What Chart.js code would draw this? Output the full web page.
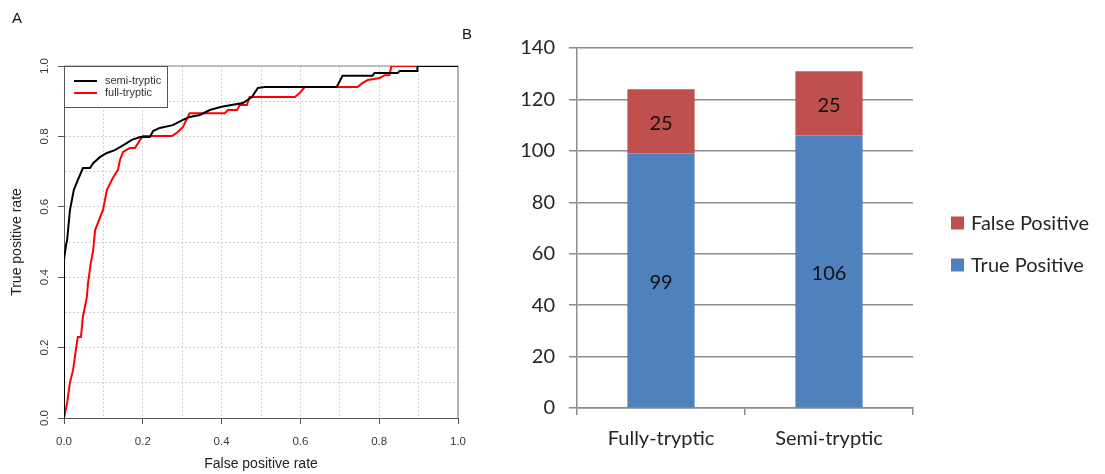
<!DOCTYPE html>
<html><head><meta charset="utf-8">
<script src="https://cdn.jsdelivr.net/npm/chart.js@4.4.1/dist/chart.umd.min.js"></script>
<style>
html,body{margin:0;padding:0;background:#fff;width:1105px;height:474px;overflow:hidden;}
#wrapA{position:absolute;left:0;top:0;width:477px;height:474px;}
#wrapB{position:absolute;left:470px;top:0;width:635px;height:474px;}
.panel{position:absolute;z-index:5;font-family:"Liberation Sans",Arial,sans-serif;font-size:15px;color:#111;line-height:1;}
</style></head><body>
<div id="wrapA"><canvas id="cA" width="477" height="474"></canvas></div>
<div id="wrapB"><canvas id="cB" width="635" height="474"></canvas></div>
<div class="panel" style="left:12px;top:10px;">A</div>
<div class="panel" style="left:462px;top:26px;">B</div>
<script>
// ---------- Panel A data (ROC curves) ----------
const rocSeriesNames = ['semi-tryptic', 'full-tryptic'];
const semiFPR = [0,0,0.005,0.008,0.015,0.025,0.035,0.048,0.066,0.074,0.091,0.109,0.129,0.155,0.172,0.193,0.218,0.226,0.243,0.276,0.302,0.319,0.345,0.37,0.4,0.454,0.477,0.492,0.51,0.692,0.707,0.783,0.788,0.847,0.852,0.897,0.897,1];
const semiTPR = [0,0.449,0.49,0.506,0.59,0.648,0.676,0.71,0.71,0.724,0.741,0.753,0.761,0.778,0.79,0.798,0.798,0.815,0.824,0.832,0.847,0.855,0.861,0.875,0.884,0.895,0.912,0.9375,0.94,0.94,0.972,0.972,0.98,0.98,0.986,0.986,1,1];
const fullFPR = [0,0.008,0.015,0.023,0.03,0.035,0.043,0.048,0.058,0.061,0.068,0.074,0.079,0.099,0.109,0.124,0.137,0.142,0.15,0.167,0.18,0.188,0.193,0.2,0.274,0.289,0.302,0.314,0.319,0.408,0.416,0.439,0.446,0.464,0.471,0.586,0.598,0.611,0.745,0.758,0.771,0.801,0.814,0.826,0.831,1];
const fullTPR = [0,0.043,0.1,0.136,0.193,0.23,0.23,0.287,0.344,0.384,0.44,0.477,0.534,0.591,0.648,0.682,0.705,0.733,0.756,0.767,0.767,0.781,0.79,0.801,0.801,0.8125,0.827,0.855,0.866,0.866,0.875,0.875,0.889,0.889,0.912,0.912,0.923,0.94,0.94,0.952,0.96,0.966,0.974,0.974,1,1];
const rocAxisMin = 0, rocAxisMax = 1, rocGridStep = 0.1;
const rocXTitle = 'False positive rate';
const rocYTitle = 'True positive rate';

// ---------- Panel B data (stacked bars) ----------
const barCategories = ['Fully-tryptic', 'Semi-tryptic'];
const truePositive = [99, 106];
const falsePositive = [25, 25];
const barSeriesNames = ['True Positive', 'False Positive'];
const barAxisMin = 0, barAxisMax = 140, barStep = 20;

const ARIAL = '"Liberation Sans", Arial, sans-serif';
const CAL = 'Lato, "Open Sans", sans-serif';

function toPoints(xs, ys){ return xs.map((x,i)=>({x:x, y:ys[i]})); }
function majorTick(v){ return Math.round(v*10) % 2 === 0; }

const boxA = {
  id:'boxA',
  beforeDatasetsDraw(chart){
    const {ctx, chartArea:a} = chart;
    ctx.save();
    ctx.strokeStyle = '#8a8a8a'; ctx.lineWidth = 1.2;
    ctx.beginPath();
    ctx.moveTo(a.left, a.top); ctx.lineTo(a.right, a.top); ctx.lineTo(a.right, a.bottom);
    ctx.stroke();
    ctx.restore();
  }
};
const legendA = {
  id:'legendA',
  afterDatasetsDraw(chart){
    const {ctx, chartArea:a} = chart;
    ctx.save();
    ctx.fillStyle = '#fff';
    ctx.fillRect(a.left, a.top, 104, 41);
    ctx.strokeStyle = '#555'; ctx.lineWidth = 1;
    ctx.strokeRect(a.left + 0.5, a.top + 0.5, 103, 41);
    chart.data.datasets.forEach((ds, i) => {
      const y = a.top + 15 + i * 12;
      ctx.strokeStyle = ds.borderColor; ctx.lineWidth = 2;
      ctx.beginPath(); ctx.moveTo(a.left + 10, y); ctx.lineTo(a.left + 33, y); ctx.stroke();
      ctx.fillStyle = '#333'; ctx.font = '11px ' + ARIAL;
      ctx.textBaseline = 'middle'; ctx.textAlign = 'left';
      ctx.fillText(ds.label, a.left + 41, y);
    });
    ctx.restore();
  }
};

const rocTickCallback = (v) => majorTick(v) ? Number(v).toFixed(1) : '';
const rocGrid = {
  color:'#d2d2d2', lineWidth:1,
  tickColor:(c)=> (c.tick && majorTick(c.tick.value)) ? '#555' : 'rgba(0,0,0,0)',
  tickBorderDash:[], tickLength:6
};
const rocBorder = {color:'#555', width:1, dash:[2,2]};

new Chart(document.getElementById('cA'), {
  type:'scatter',
  data:{ datasets:[
    {label:rocSeriesNames[0], data:toPoints(semiFPR, semiTPR), showLine:true, borderColor:'#000000', borderWidth:2, pointRadius:0, fill:false, tension:0},
    {label:rocSeriesNames[1], data:toPoints(fullFPR, fullTPR), showLine:true, borderColor:'#ff0000', borderWidth:2, pointRadius:0, fill:false, tension:0}
  ]},
  options:{
    responsive:false, animation:false, devicePixelRatio:1,
    layout:{padding:{left:0, top:66, right:0, bottom:0}},
    plugins:{legend:{display:false}, tooltip:{enabled:false}},
    scales:{
      x:{type:'linear', min:rocAxisMin, max:rocAxisMax,
        afterFit(s){ s.height = 56; },
        ticks:{stepSize:rocGridStep, autoSkip:false, maxRotation:0, padding:11, color:'#3a3a3a', font:{family:ARIAL, size:11.5}, callback:rocTickCallback},
        grid:rocGrid,
        border:rocBorder,
        title:{display:true, text:rocXTitle, color:'#222', font:{family:ARIAL, size:14}, padding:{top:0, bottom:1}}
      },
      y:{type:'linear', min:rocAxisMin, max:rocAxisMax,
        afterFit(s){ s.width = 64; },
        ticks:{stepSize:rocGridStep, autoSkip:false, minRotation:90, maxRotation:90, crossAlign:'center', padding:5, color:'#3a3a3a', font:{family:ARIAL, size:11.5}, callback:rocTickCallback},
        grid:rocGrid,
        border:rocBorder,
        title:{display:true, text:rocYTitle, color:'#222', font:{family:ARIAL, size:14}, padding:{top:9, bottom:0}}
      }
    }
  },
  plugins:[boxA, legendA]
});

const barValueLabels = {
  id:'barValueLabels',
  afterDatasetsDraw(chart){
    const ctx = chart.ctx;
    ctx.save();
    ctx.font = '20px ' + CAL; ctx.fillStyle = '#111';
    ctx.textAlign = 'center'; ctx.textBaseline = 'middle';
    chart.data.datasets.forEach((ds, i) => {
      chart.getDatasetMeta(i).data.forEach((el, j) => {
        const p = el.getProps(['x','y','base'], true);
        ctx.fillText(String(ds.data[j]), p.x, (p.y + p.base) / 2 + 2);
      });
    });
    ctx.restore();
  }
};
const legendB = {
  id:'legendB',
  afterDraw(chart){
    const {ctx, chartArea:a} = chart;
    ctx.save();
    ctx.font = '20px ' + CAL; ctx.textBaseline = 'middle'; ctx.textAlign = 'left';
    const ds = chart.data.datasets.slice().reverse();
    ds.forEach((d, i) => {
      const cy = a.top + 175 + i * 42;
      ctx.fillStyle = d.backgroundColor;
      ctx.fillRect(a.right + 38, cy - 6.5, 13, 13);
      ctx.fillStyle = '#262626';
      ctx.fillText(d.label, a.right + 58, cy + 1);
    });
    ctx.restore();
  }
};

new Chart(document.getElementById('cB'), {
  type:'bar',
  data:{ labels:barCategories, datasets:[
    {label:barSeriesNames[0], data:truePositive, backgroundColor:'#4F81BD', stack:'s'},
    {label:barSeriesNames[1], data:falsePositive, backgroundColor:'#C0504D', stack:'s'}
  ]},
  options:{
    responsive:false, animation:false, devicePixelRatio:1,
    layout:{padding:{left:0, top:48, right:192, bottom:0}},
    datasets:{bar:{categoryPercentage:1, barPercentage:0.4}},
    plugins:{legend:{display:false}, tooltip:{enabled:false}},
    scales:{
      x:{stacked:true,
        afterFit(s){ s.height = 66; },
        grid:{offset:true, drawOnChartArea:false, tickLength:7, color:'#8c8c8c', lineWidth:1.5},
        border:{color:'#8c8c8c', width:1.5},
        ticks:{padding:12, color:'#262626', font:{family:CAL, size:20}}
      },
      y:{stacked:true, min:barAxisMin, max:barAxisMax,
        afterFit(s){ s.width = 107; },
        ticks:{stepSize:barStep, padding:14, color:'#262626', font:{family:CAL, size:20}},
        grid:{color:'#8c8c8c', lineWidth:1.5, tickLength:8},
        border:{color:'#8c8c8c', width:1.5}
      }
    }
  },
  plugins:[barValueLabels, legendB]
});
</script>
</body></html>
